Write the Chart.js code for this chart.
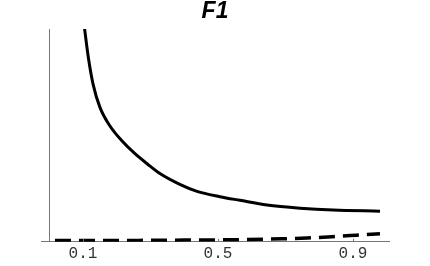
<!DOCTYPE html>
<html>
<head>
<meta charset="utf-8">
<script src="https://cdn.jsdelivr.net/npm/chart.js@4"></script>
<style>
  html, body { margin: 0; padding: 0; background: #fff; }
  #wrap { width: 430px; height: 266px; }
</style>
</head>
<body>
<div id="wrap"><canvas id="f1Chart"></canvas></div>
<script>
const solidX = [0.104, 0.116, 0.13, 0.15, 0.18, 0.218, 0.254, 0.29, 0.328, 0.387, 0.438, 0.506, 0.565, 0.645, 0.743, 0.841, 0.98];
const solidY = [1.01, 0.865, 0.74, 0.633, 0.544, 0.47, 0.414, 0.367, 0.321, 0.27, 0.237, 0.212, 0.195, 0.173, 0.158, 0.149, 0.144];
const dashedX = [0.017, 0.1, 0.2, 0.3, 0.4, 0.5, 0.565, 0.69, 0.764, 0.838, 0.91, 0.98];
const dashedY = [0.006, 0.006, 0.006, 0.007, 0.008, 0.009, 0.01, 0.014, 0.018, 0.024, 0.031, 0.038];
const tickValues = [0.1, 0.5, 0.9];

const toPoints = (xs, ys) => xs.map((x, i) => ({ x, y: ys[i] }));

// y axis at x = 0 and short tick marks above the x axis
const axisPlugin = {
  id: "axisLines",
  afterDraw(chart) {
    const { ctx, chartArea, scales } = chart;
    const x0 = scales.x.getPixelForValue(0);
    const yBase = scales.y.getPixelForValue(0);
    ctx.save();
    ctx.strokeStyle = "#777";
    ctx.lineWidth = 1;
    ctx.beginPath();
    ctx.moveTo(Math.round(x0) + 0.5, chartArea.top);
    ctx.lineTo(Math.round(x0) + 0.5, yBase);
    tickValues.forEach((v) => {
      const px = Math.round(scales.x.getPixelForValue(v)) + 0.5;
      ctx.moveTo(px, yBase);
      ctx.lineTo(px, yBase - 3);
    });
    ctx.stroke();
    ctx.restore();
  }
};

new Chart(document.getElementById("f1Chart").getContext("2d"), {
  type: "line",
  data: {
    datasets: [
      {
        data: toPoints(solidX, solidY),
        borderColor: "#000",
        borderWidth: 3,
        pointRadius: 0,
        cubicInterpolationMode: "monotone",
        fill: false
      },
      {
        data: toPoints(dashedX, dashedY),
        borderColor: "#000",
        borderWidth: 3.5,
        borderDash: [16, 8],
        pointRadius: 0,
        cubicInterpolationMode: "monotone",
        fill: false
      }
    ]
  },
  options: {
    responsive: true,
    maintainAspectRatio: false,
    animation: false,
    layout: { padding: { left: 41, right: 41, top: 0, bottom: 1 } },
    plugins: {
      legend: { display: false },
      tooltip: { enabled: false },
      title: {
        display: true,
        text: "F1",
        color: "#000",
        font: { family: "Liberation Sans", size: 23, weight: "bold", style: "italic", lineHeight: 1 },
        padding: { top: 0, bottom: 6 }
      }
    },
    scales: {
      x: {
        type: "linear",
        min: -0.0244,
        max: 1.0067,
        afterBuildTicks: (scale) => {
          scale.ticks = tickValues.map((value) => ({ value }));
        },
        ticks: {
          color: "#333",
          font: { family: "Liberation Mono", size: 16 },
          padding: 2,
          maxRotation: 0,
          callback: (value) => value.toFixed(1)
        },
        grid: { display: false, drawTicks: false },
        border: { color: "#777", width: 1 }
      },
      y: {
        display: false,
        min: 0,
        max: 1
      }
    }
  },
  plugins: [axisPlugin]
});
</script>
</body>
</html>
